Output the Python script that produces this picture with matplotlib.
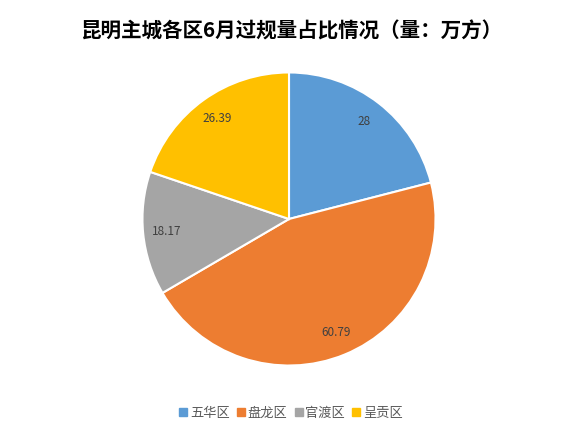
import matplotlib.pyplot as plt
from matplotlib.lines import Line2D

plt.rcParams['font.family'] = ['Noto Sans CJK SC', 'DejaVu Sans']

districts = ['五华区', '盘龙区', '官渡区', '呈贡区']
values = [28, 60.79, 18.17, 26.39]
colors = ['#5B9BD5', '#ED7D31', '#A5A5A5', '#FFC000']
title = '昆明主城各区6月过规量占比情况（量：万方）'

W, H = 582, 440
fig = plt.figure(figsize=(W / 100, H / 100), dpi=100)
cx, cy, r = 289, 219, 148
ax = fig.add_axes([(cx - r) / W, (H - cy - r) / H, 2 * r / W, 2 * r / H])

wedges, texts, autotexts = ax.pie(
    values, colors=colors, startangle=90, counterclock=False,
    autopct=lambda p: '{:g}'.format(round(p * sum(values) / 100, 2)),
    pctdistance=0.84,
    wedgeprops=dict(edgecolor='white', linewidth=1.5),
    textprops=dict(fontsize=8.5, color='#404040'))
ax.set_xlim(-1.01, 1.01)
ax.set_ylim(-1.01, 1.01)
ax.set_aspect('equal')
ax.axis('off')

fig.text(291 / W, 1 - 31 / H, title, ha='center', va='center',
         fontsize=14.8, fontweight='bold', color='#000000')

handles = [Line2D([], [], marker='s', linestyle='', markersize=6,
                  markerfacecolor=c, markeredgecolor=c) for c in colors]
fig.legend(handles, districts, loc='center', bbox_to_anchor=(290 / W, 1 - 413 / H),
           ncol=4, frameon=False, fontsize=9.5, labelcolor='#595959',
           handletextpad=0.05, columnspacing=0.4, handlelength=0.9)

fig.savefig('out.png', dpi=100, facecolor='white')
